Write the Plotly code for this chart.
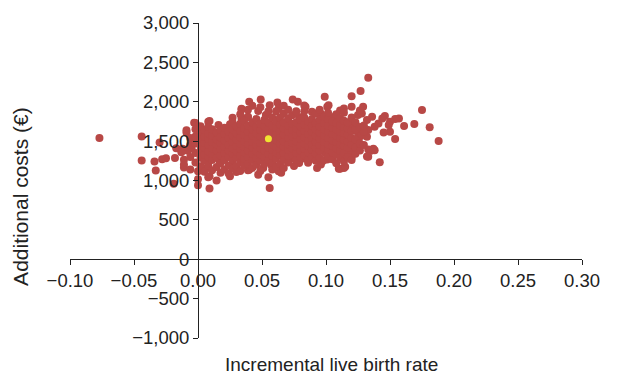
import plotly.graph_objects as go

# ---- data ----
# outer / isolated simulations (incremental live birth rate, additional cost in EUR)
edge_x = [-0.077, -0.044, -0.030, -0.044, -0.034, -0.028, -0.025, -0.018, -0.011, -0.033,
          -0.019, -0.011, -0.006, 0.000, 0.000, 0.000, -0.003, -0.009, 0.000, -0.017,
          -0.012, -0.008, -0.005, -0.013, -0.004, 0.008, 0.009, -0.011, -0.009, -0.002,
          0.040, 0.049, 0.034, 0.027, 0.056, 0.062, 0.074, 0.078, 0.084, 0.099,
          0.089, 0.101, 0.047, 0.039, 0.009, 0.016, 0.025, 0.053, 0.063, 0.039,
          0.034, 0.083, 0.067, 0.079, 0.096, 0.106, 0.111, 0.062, 0.034,
          0.056, 0.025, 0.009, 0.007, 0.008, 0.040, 0.047, 0.051, 0.063, 0.057,
          0.074, 0.079, 0.084, 0.093, 0.097, 0.035, 0.027, 0.017, 0.030, 0.039,
          0.058, 0.065, 0.075, 0.081, 0.086, 0.096, 0.101, 0.110, 0.099, 0.090,
          0.133, 0.127, 0.120, 0.102, 0.120, 0.129, 0.114, 0.175, 0.169, 0.181,
          0.188, 0.161, 0.157, 0.154, 0.146, 0.144, 0.150, 0.154, 0.150, 0.145,
          0.149, 0.136, 0.138, 0.141, 0.133, 0.132, 0.137, 0.132, 0.135, 0.142,
          0.120, 0.114, 0.111, 0.120, 0.125, 0.128, 0.120, 0.125, 0.132, 0.138,
          0.133, 0.115, 0.118, 0.124, 0.127, 0.133]
edge_y = [1540, 1560, 1484, 1255, 1240, 1271, 1284, 1286, 1263, 1127,
          958, 1166, 1139, 1118, 1015, 940, 1734, 1608, 1599, 1410,
          1402, 1377, 1410, 1359, 1494, 1746, 898, 1204, 1637, 1730,
          1999, 2028, 1902, 1797, 1957, 1990, 2028, 1999, 1936, 2062,
          1873, 1936, 1881, 1810, 1755, 1705, 1713, 1831, 1914, 1806,
          1784, 1953, 1847, 1806, 1847, 1806, 1889, 1763, 1910,
          905, 1053, 1053, 1158, 1242, 1137, 1074, 1158, 1116, 1200,
          1284, 1221, 1284, 1158, 1242, 1242, 1200, 1242, 1107, 1129,
          1141, 1099, 1183, 1276, 1225, 1204, 1267, 1150, 1359, 1352,
          2305, 2137, 2070, 1957, 1936, 1936, 1914, 1894, 1717, 1675,
          1503, 1692, 1788, 1780, 1818, 1788, 1746, 1528, 1620, 1608,
          1705, 1810, 1683, 1725, 1642, 1557, 1402, 1305, 1377, 1233,
          1292, 1158, 1150, 1390, 1831, 1851, 1705, 1599, 1768, 1385,
          1393, 1175, 1372, 1478, 1561, 1301]

# dense core of the cloud: x position of each column and the costs in it
core_x = [-0.006, -0.002, 0.002, 0.005, 0.008, 0.011, 0.0145, 0.0176, 0.0207, 0.0239,
          0.027, 0.030, 0.033, 0.036, 0.039, 0.0425, 0.0456, 0.0487, 0.0519, 0.055,
          0.058, 0.061, 0.064, 0.067, 0.0705, 0.0736, 0.0767, 0.080, 0.083, 0.086,
          0.089, 0.092, 0.095, 0.0985, 0.1016, 0.105, 0.108, 0.111, 0.114, 0.117,
          0.120, 0.123, 0.1265, 0.1296]
core_y = [
    [1300, 1450, 1540],
    [1230, 1350, 1470, 1560, 1650],
    [1180, 1290, 1380, 1440, 1520, 1620, 1690],
    [1110, 1250, 1330, 1420, 1480, 1560, 1640],
    [1040, 1190, 1300, 1370, 1450, 1530, 1600, 1680],
    [1130, 1260, 1340, 1410, 1490, 1570, 1650],
    [1000, 1170, 1290, 1380, 1460, 1520, 1610],
    [1100, 1220, 1320, 1400, 1480, 1550, 1640],
    [1140, 1260, 1350, 1430, 1510, 1590, 1670],
    [1090, 1190, 1300, 1380, 1450, 1540, 1620],
    [1150, 1260, 1340, 1410, 1490, 1570, 1650, 1740],
    [1180, 1290, 1370, 1440, 1520, 1600, 1690],
    [1120, 1230, 1320, 1400, 1470, 1550, 1630, 1720, 1840],
    [1190, 1280, 1360, 1430, 1500, 1580, 1660, 1760],
    [1210, 1300, 1380, 1460, 1540, 1620, 1700, 1900],
    [1160, 1260, 1340, 1420, 1490, 1570, 1650, 1740, 1950],
    [1200, 1290, 1370, 1450, 1520, 1600, 1680, 1780],
    [1120, 1250, 1330, 1410, 1480, 1560, 1640, 1720, 1930],
    [1220, 1300, 1380, 1450, 1530, 1610, 1690, 1770],
    [1040, 1260, 1340, 1420, 1490, 1570, 1650, 1740, 1880],
    [1230, 1310, 1390, 1460, 1540, 1620, 1700, 1800],
    [1170, 1280, 1360, 1430, 1510, 1590, 1670, 1750, 1880],
    [1210, 1320, 1400, 1470, 1550, 1630, 1710, 1800],
    [1160, 1260, 1350, 1430, 1500, 1580, 1660, 1740, 1950],
    [1230, 1310, 1390, 1460, 1540, 1620, 1700, 1790, 1900],
    [1330, 1410, 1480, 1560, 1640, 1720, 1830],
    [1260, 1350, 1430, 1500, 1580, 1660, 1740, 1880],
    [1300, 1380, 1450, 1530, 1610, 1690, 1770],
    [1320, 1400, 1470, 1550, 1630, 1710, 1800, 1880],
    [1260, 1360, 1440, 1510, 1590, 1670, 1750],
    [1300, 1390, 1460, 1540, 1620, 1700, 1780],
    [1250, 1340, 1420, 1490, 1570, 1650, 1730, 1850],
    [1290, 1380, 1450, 1530, 1610, 1690, 1770, 1900],
    [1260, 1420, 1490, 1570, 1650, 1730, 1810],
    [1310, 1390, 1460, 1540, 1620, 1700, 1780, 1860],
    [1270, 1360, 1440, 1510, 1590, 1670, 1750],
    [1220, 1330, 1410, 1490, 1570, 1650, 1730, 1840],
    [1290, 1380, 1460, 1540, 1620, 1700, 1790],
    [1240, 1350, 1440, 1520, 1600, 1680, 1760, 1860],
    [1300, 1420, 1500, 1580, 1660, 1740],
    [1260, 1460, 1540, 1630, 1800],
    [1340, 1420, 1520, 1650, 1740],
    [1380, 1470, 1680, 1890],
    [1450, 1620, 1700],
]

# base-case (mean) result, shown in yellow
base_x = [0.055]
base_y = [1530]

x_ticks = [-0.10, -0.05, 0.00, 0.05, 0.10, 0.15, 0.20, 0.25, 0.30]
y_ticks = [-1000, -500, 0, 500, 1000, 1500, 2000, 2500, 3000]

# ---- assemble ----
sim_x = list(edge_x)
sim_y = list(edge_y)
for cx, ys in zip(core_x, core_y):
    for yv in ys:
        sim_x.append(cx)
        sim_y.append(yv)

RED = "rgb(184,72,70)"
YELLOW = "rgb(240,228,50)"
FONT = "Liberation Sans, Arial, sans-serif"
INK = "#222222"

fig = go.Figure()
fig.add_trace(go.Scatter(x=sim_x, y=sim_y, mode="markers",
                         marker=dict(size=8, color=RED, line=dict(width=0)),
                         showlegend=False))
fig.add_trace(go.Scatter(x=base_x, y=base_y, mode="markers",
                         marker=dict(size=7, color=YELLOW, line=dict(width=0)),
                         showlegend=False))

xr = [-0.1, 0.3]
yr = [-1000, 3000]
axis_common = dict(showgrid=False, zeroline=False, showline=True,
                   linecolor=INK, linewidth=1, ticks="outside",
                   ticklen=5, tickwidth=1, tickcolor=INK,
                   tickfont=dict(family=FONT, size=18.5, color=INK))

fig.update_layout(
    width=619, height=375,
    margin=dict(l=70, r=37, t=21, b=37),
    paper_bgcolor="white", plot_bgcolor="white",
    xaxis=dict(range=xr, tickvals=x_ticks, tickformat=".2f",
               anchor="free", position=(0 - yr[0]) / (yr[1] - yr[0]),
               domain=[0, 1], **axis_common),
    yaxis=dict(range=yr, tickvals=y_ticks, tickformat=",",
               anchor="free", position=(0 - xr[0]) / (xr[1] - xr[0]),
               domain=[0, 1], **axis_common),
    annotations=[
        dict(text="Additional costs (€)", xref="paper", yref="paper",
             x=-0.0957, y=0.448, xanchor="center", yanchor="middle",
             textangle=-90, showarrow=False,
             font=dict(family=FONT, size=21, color=INK)),
        dict(text="Incremental live birth rate", xref="paper", yref="paper",
             x=0.51, y=-0.085, xanchor="center", yanchor="middle",
             showarrow=False,
             font=dict(family=FONT, size=19, color=INK)),
    ],
)

fig.write_html("out.html")
